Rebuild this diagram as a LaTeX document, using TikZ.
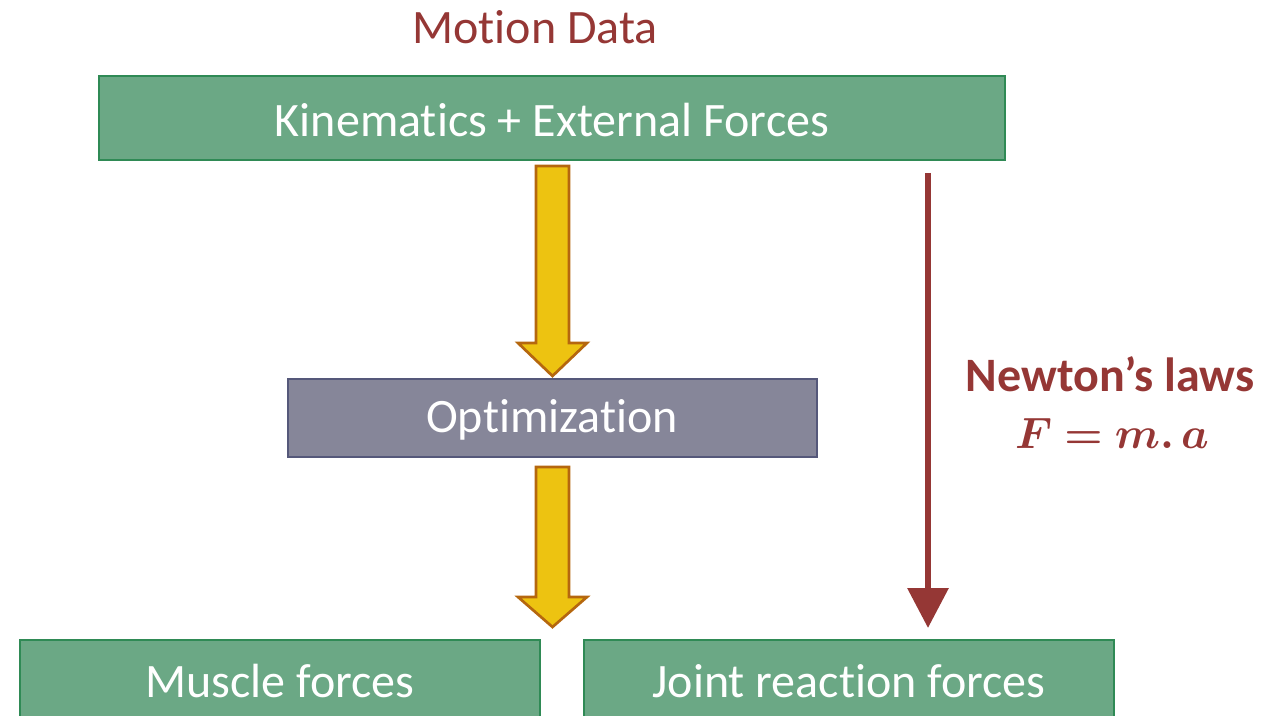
\documentclass[tikz,border=0pt]{standalone}
\usepackage{fontspec}
\usepackage{amsmath,bm}
\usetikzlibrary{arrows.meta}
\setmainfont{Carlito}[Ligatures={NoCommon}]
\definecolor{boxgreen}{HTML}{6BA885}
\definecolor{edgegreen}{HTML}{2F8A55}
\definecolor{boxgray}{HTML}{868699}
\definecolor{edgegray}{HTML}{55587A}
\definecolor{arrowyellow}{HTML}{EDC311}
\definecolor{edgeorange}{HTML}{B5670E}
\definecolor{darkred}{HTML}{953735}
\tikzset{
  greenbox/.style={draw=edgegreen, fill=boxgreen, line width=2.2pt},
  graybox/.style={draw=edgegray, fill=boxgray, line width=2.2pt},
  boxtext/.style={text=white, font=\fontsize{36}{42}\selectfont, inner sep=0pt},
  blockarrow/.style={draw=edgeorange, fill=arrowyellow, line width=2pt, line join=miter},
  redtext/.style={text=darkred, inner sep=0pt},
}
\begin{document}
\begin{tikzpicture}[x=0.75pt, y=-0.75pt]
\useasboundingbox (0,0) rectangle (1281,716);
\begin{scope}
\clip (0,0) rectangle (1281,716);
% boxes
\draw[greenbox] (99,76) rectangle (1005,160);
\node[boxtext] (kin) at (552,120) {Kinematics + External Forces};
\draw[graybox] (288,379) rectangle (817,457);
\node[boxtext] (opt) at (552,420) {Optimization};
\draw[greenbox] (20,640) rectangle (540,740);
\node[boxtext] (mus) at (280,681) {Muscle forces};
\draw[greenbox] (584,640) rectangle (1114,740);
\node[boxtext] (jrf) at (849,681) {Joint reaction forces};
\end{scope}
% yellow block arrows
\draw[blockarrow] (536,166) -- (569,166) -- (569,343) -- (587,343) -- (552.5,376) -- (518,343) -- (536,343) -- cycle;
\draw[blockarrow] (536,467) -- (569,467) -- (569,597) -- (587,597) -- (552.5,627) -- (518,597) -- (536,597) -- cycle;
% Newton arrow
\coordinate (rtop) at (928,173);
\coordinate (rtip) at (928,628);
\draw[darkred, line width=4.8pt, -{Triangle[width=30pt, length=30pt]}] (rtop) -- (rtip);
% labels
\node[redtext, font=\fontsize{36}{42}\selectfont] (md) at (535,27) {Motion Data};
\node[redtext, font=\fontsize{36}{42}\selectfont\bfseries] (nl) at (1110,374) {Newton’s laws};
\node[redtext, font=\Huge] (eq) at (1112,433) {\scalebox{1.32}{$\bm{F = m.\,a}$}};
\end{tikzpicture}
\end{document}
